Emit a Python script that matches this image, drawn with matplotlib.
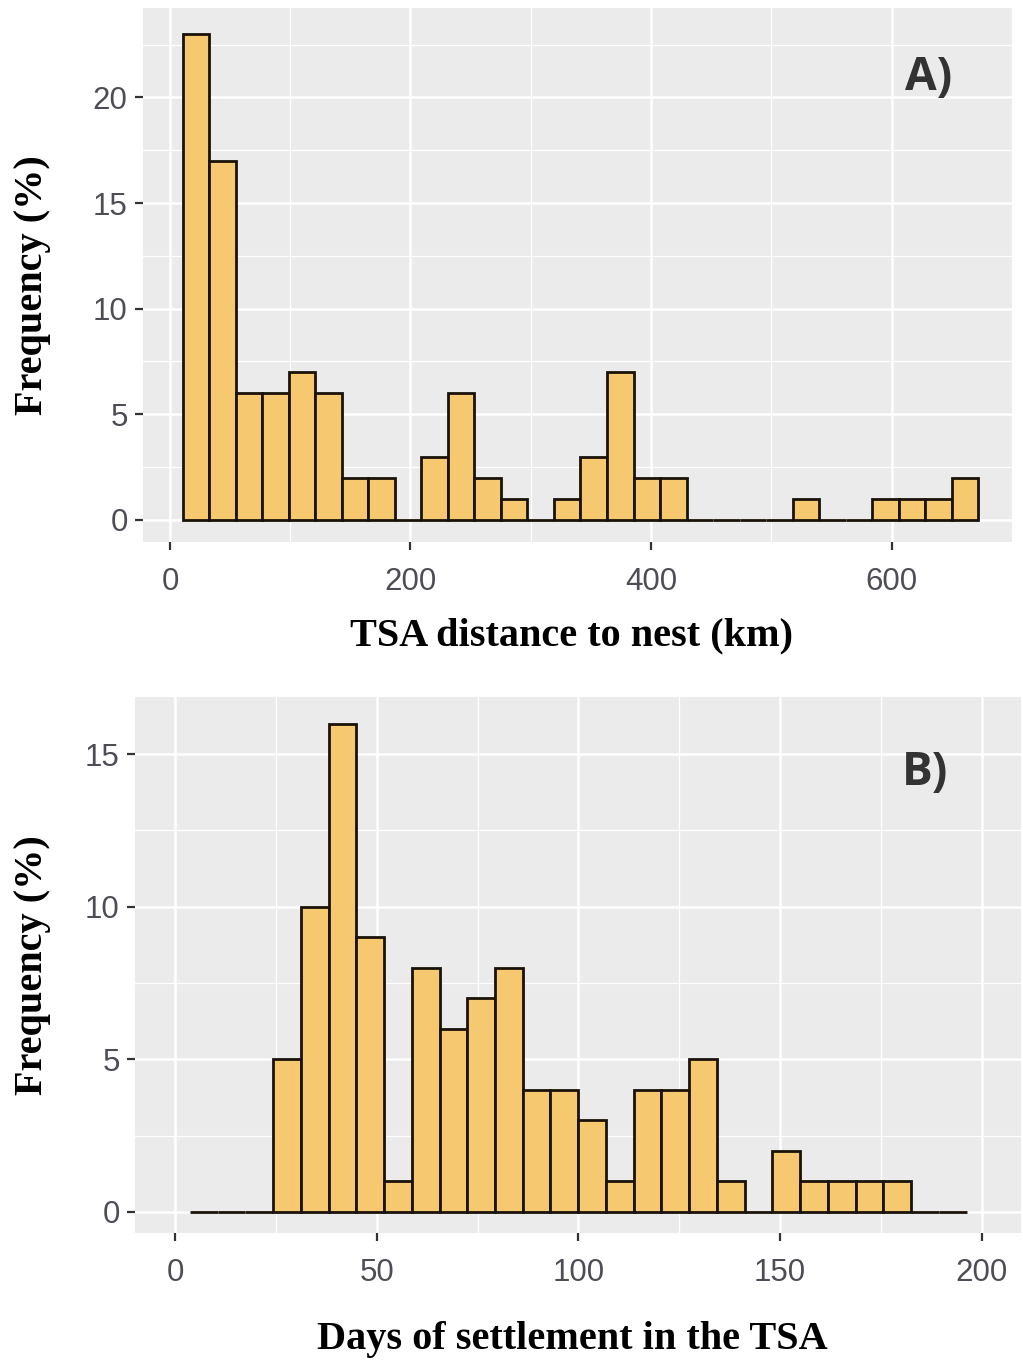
import numpy as np
import matplotlib.pyplot as plt
from matplotlib.ticker import MultipleLocator

# Panel A: TSA distance to nest (km), 30 bins
dist_start = 10.6
dist_binwidth = 22.05
dist_freq = [23, 17, 6, 6, 7, 6, 2, 2, 0, 3, 6, 2, 1, 0, 1,
             3, 7, 2, 2, 0, 0, 0, 0, 1, 0, 0, 1, 1, 1, 2]

# Panel B: days of settlement in the TSA, 28 bins
days_start = 3.7
days_binwidth = 6.875
days_freq = [0, 0, 0, 5, 10, 16, 9, 1, 8, 6, 7, 8, 4, 4,
             3, 1, 4, 4, 5, 1, 0, 2, 1, 1, 1, 1, 0, 0]

W, H = 1023, 1367
fill = '#F6C870'
tick_font = 'Liberation Sans'
title_font = 'Liberation Serif'


def style(ax, xmajor, ymajor):
    ax.set_facecolor('#EBEBEB')
    for s in ax.spines.values():
        s.set_visible(False)
    ax.xaxis.set_major_locator(MultipleLocator(xmajor))
    ax.xaxis.set_minor_locator(MultipleLocator(xmajor / 2))
    ax.yaxis.set_major_locator(MultipleLocator(ymajor))
    ax.yaxis.set_minor_locator(MultipleLocator(ymajor / 2))
    ax.grid(which='major', color='white', lw=1.8)
    ax.grid(which='minor', color='white', lw=0.9)
    ax.set_axisbelow(True)
    ax.tick_params(which='major', length=6, width=1.6, color='#333333',
                   labelsize=22.5, labelcolor='#4D4D55')
    ax.tick_params(axis='x', pad=12)
    ax.tick_params(axis='y', pad=5)
    ax.tick_params(which='minor', length=0)
    for lab in ax.get_xticklabels() + ax.get_yticklabels():
        lab.set_family(tick_font)


def hist(ax, start, width, freq):
    edges = start + width * np.arange(len(freq))
    ax.bar(edges, freq, width=width, align='edge', color=fill,
           edgecolor='#1a1208', linewidth=2.0, zorder=3)


fig = plt.figure(figsize=(W / 100, H / 100), dpi=100)

axA = fig.add_axes([143 / W, 1 - 541.7 / H, (1013 - 143) / W, (541.7 - 8) / H])
hist(axA, dist_start, dist_binwidth, dist_freq)
axA.set_xlim(-22.4, 701)
axA.set_ylim(-1.03, 24.23)
style(axA, 200, 5)
axA.text(0.903, 0.87, 'A)', transform=axA.transAxes, ha='center', va='center',
         fontsize=33, fontweight='bold', family='Open Sans', color='#333333')

axB = fig.add_axes([135 / W, 1 - 1233 / H, (1021 - 135) / W, (1233 - 697) / H])
hist(axB, days_start, days_binwidth, days_freq)
axB.set_xlim(-9.9, 209.7)
axB.set_ylim(-0.69, 16.87)
style(axB, 50, 5)
axB.text(0.892, 0.86, 'B)', transform=axB.transAxes, ha='center', va='center',
         fontsize=33, fontweight='bold', family='Open Sans', color='#333333')

fig.text(572 / W, 1 - 636 / H, 'TSA distance to nest (km)', ha='center', va='center',
         fontsize=29, fontweight='bold', family=title_font)
fig.text(572 / W, 1 - 1340 / H, 'Days of settlement in the TSA', ha='center', va='center',
         fontsize=29, fontweight='bold', family=title_font)
fig.text(33 / W, 1 - 285 / H, 'Frequency (%)', ha='center', va='center', rotation=90,
         fontsize=29, fontweight='bold', family=title_font)
fig.text(33 / W, 1 - 965 / H, 'Frequency (%)', ha='center', va='center', rotation=90,
         fontsize=29, fontweight='bold', family=title_font)

fig.savefig('out.png', dpi=100)
